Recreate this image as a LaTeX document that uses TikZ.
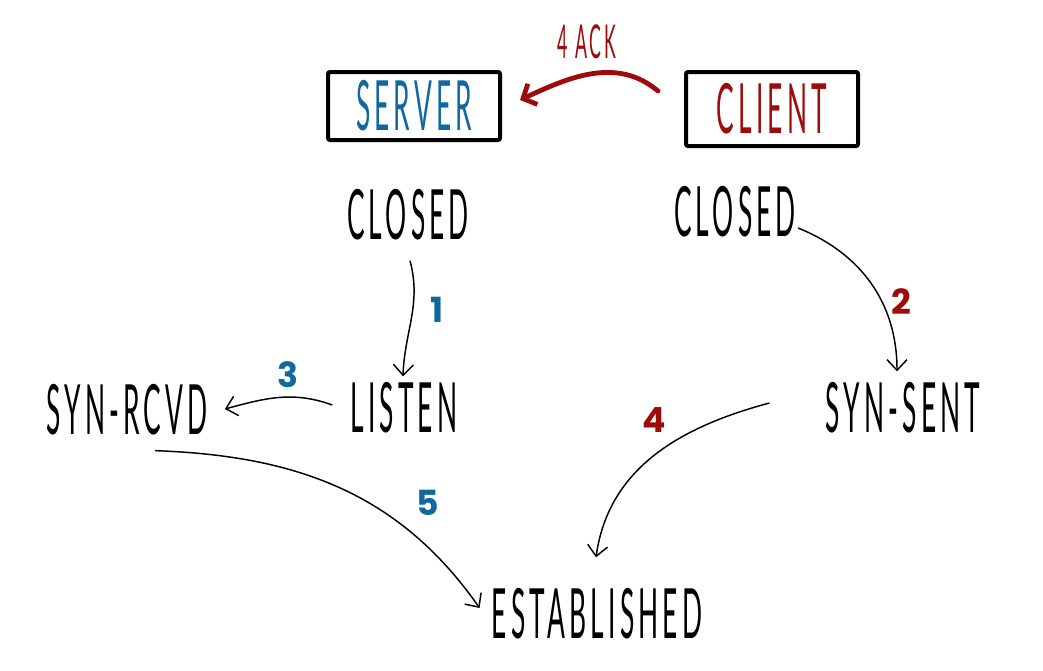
\documentclass[tikz,border=0pt]{standalone}
\usepackage{fontspec}
\usetikzlibrary{arrows.meta}
\newfontfamily\handfont{Lato}[FakeStretch=0.38, LetterSpace=6]
\newfontfamily\numfont{Poppins}[UprightFont=* Bold]
\definecolor{servblue}{HTML}{0F69A0}
\definecolor{clired}{HTML}{9E0B0B}

\begin{document}
\begin{tikzpicture}[x=0.75pt, y=0.75pt,
    state/.style={inner sep=0pt, font=\fontsize{52}{52}\selectfont\handfont},
    role/.style={draw, line width=3pt, rounded corners=1.5pt, minimum width=129pt,
      minimum height=51pt, inner sep=0pt, font=\fontsize{52}{52}\selectfont\handfont},
    flow/.style={-{Straight Barb[length=8pt,width=15pt]}, line width=1.1pt},
    ack/.style={-{Straight Barb[length=8pt,width=17pt]}, line width=3.6pt,
      line cap=round, clired},
    num/.style={font=\fontsize{26}{26}\selectfont\numfont}]
    \useasboundingbox (0,0) rectangle (1043,-671);

    % the two sides
    \node[role, text=servblue] (server) at (414,-106) {SERVER};
    \node[role, text=clired, minimum height=55.5pt] (client) at (772,-109) {CLIENT};
    \node[font=\fontsize{35}{35}\selectfont\handfont, text=clired] (ack) at (587,-42) {4 ACK};

    % states
    \node[state] (closedS) at (408,-215) {CLOSED};
    \node[state] (closedC) at (735,-212) {CLOSED};
    \node[state] (listen) at (404,-408) {LISTEN};
    \node[state] (synrcvd) at (127,-410) {SYN-RCVD};
    \node[state] (synsent) at (903,-408) {SYN-SENT};
    \node[state] (estab) at (597,-614) {ESTABLISHED};

    % step numbers
    \node[num, text=servblue] (n1) at (437,-310) {1};
    \node[num, text=clired] (n2) at (901,-302) {2};
    \node[num, text=servblue] (n3) at (288,-375) {3};
    \node[num, text=clired] (n4) at (654,-420) {4};
    \node[num, text=servblue] (n5) at (428,-503) {5};

    \draw[ack] ([shift={(-26,18)}]client.west) to[out=140,in=25] ([shift={(18,6)}]server.east);

    \draw[flow] ([shift={(2,-20)}]closedS.south) to[out=-75,in=88] ([shift={(-1,6)}]listen.north);
    \draw[flow] ([shift={(2,-16)}]closedC.east) to[out=-22,in=90] ([shift={(-6,11)}]synsent.north);
    \draw[flow] ([shift={(-18,3)}]listen.west) to[out=160,in=15] ([shift={(17,1)}]synrcvd.east);
    \draw[flow] ([shift={(-56,5)}]synsent.west) to[out=195,in=82] ([shift={(-1,31)}]estab.north);
    \draw[flow] ([shift={(28,-15)}]synrcvd.south) to[out=-2,in=125] ([shift={(-12,6)}]estab.west);
  \end{tikzpicture}
\end{document}
